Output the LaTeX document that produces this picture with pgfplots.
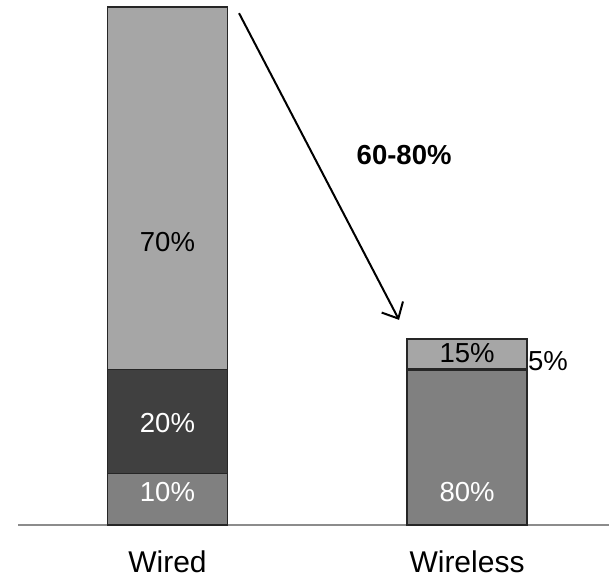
\documentclass[border=0pt]{standalone}
\usepackage{pgfplots}
\pgfplotsset{compat=1.18}
\usepackage{fontspec}
\setmainfont{Liberation Sans}
\usetikzlibrary{arrows.meta}
\definecolor{segmid}{HTML}{808080}
\definecolor{segdark}{HTML}{404040}
\definecolor{seglight}{HTML}{A6A6A6}
\begin{document}
\begin{tikzpicture}
\useasboundingbox (-18pt,-55pt) rectangle (591pt,525pt);
\begin{axis}[
    at={(0pt,0pt)}, anchor=south west,
    scale only axis,
    width=591pt, height=518pt,
    ybar stacked,
    bar width=120pt,
    xmin=-0.499, xmax=1.474,
    ymin=0, ymax=100,
    enlargelimits=false,
    clip=false,
    axis x line=bottom,
    axis y line=none,
    axis line style={draw=gray!90, line width=1.5pt, -},
    ytick=\empty,
    xtick={0,1},
    xticklabels={Wired,Wireless},
    xtick style={draw=none},
    xticklabel style={anchor=center, yshift=-35pt, font=\fontsize{30}{34}\selectfont},
]
% bottom segment
\addplot[fill=segmid, draw=black!85, line width=1.4pt] coordinates {(0,10) (1,29.8)};
% middle segment
\addplot[fill=segdark, draw=black!85, line width=1.4pt] coordinates {(0,20) (1,0.3)};
% top segment
\addplot[fill=seglight, draw=black!85, line width=1.4pt] coordinates {(0,70) (1,5.8)};

\coordinate (l10) at (axis cs:0,6.4);
\coordinate (l20) at (axis cs:0,19.7);
\coordinate (l70) at (axis cs:0,54.6);
\coordinate (l80) at (axis cs:1,6.4);
\coordinate (l15) at (axis cs:1,33.2);
\coordinate (l5) at (axis cs:1.2,31.7);
\coordinate (a0) at (axis cs:0.239,98.8);
\coordinate (a1) at (axis cs:0.773,39.6);
\coordinate (t6080) at (axis cs:0.79,71.4);
\end{axis}
\begin{scope}[font=\fontsize{27.5}{30}\selectfont]
\node[white] at (l10) {10\%};
\node[white] at (l20) {20\%};
\node at (l70) {70\%};
\node[white] at (l80) {80\%};
\node at (l15) {15\%};
\node[anchor=west, inner sep=1pt] at (l5) {5\%};
\node at (t6080) {\bfseries 60-80\%};
\end{scope}
\draw[line width=2pt, -{Straight Barb[length=13pt, width=24pt]}] (a0) -- (a1);
\end{tikzpicture}
\end{document}
